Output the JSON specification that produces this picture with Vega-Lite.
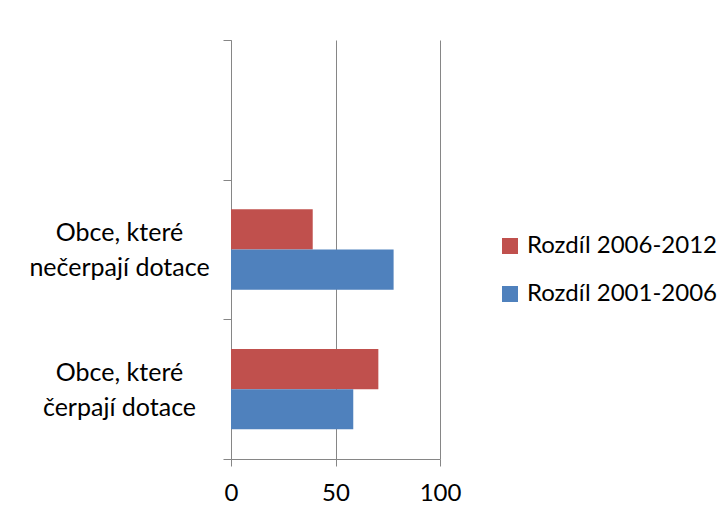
{
  "$schema": "https://vega.github.io/schema/vega-lite/v6.json",
  "autosize": "none",
  "padding": {"left": 231, "top": 40, "right": 288, "bottom": 59},
  "width": 209,
  "height": 419,
  "background": "white",
  "data": {
    "values": [
      {"category": "Obce, které čerpají dotace", "series": "Rozdíl 2006-2012", "value": 70.5},
      {"category": "Obce, které čerpají dotace", "series": "Rozdíl 2001-2006", "value": 58.5},
      {"category": "Obce, které nečerpají dotace", "series": "Rozdíl 2006-2012", "value": 39.1},
      {"category": "Obce, které nečerpají dotace", "series": "Rozdíl 2001-2006", "value": 77.8}
    ]
  },
  "mark": {"type": "bar"},
  "encoding": {
    "y": {
      "field": "category",
      "type": "nominal",
      "scale": {
        "domain": [" ", "Obce, které nečerpají dotace", "Obce, které čerpají dotace"],
        "paddingInner": 0,
        "paddingOuter": 0
      },
      "axis": {
        "title": null,
        "labelExpr": "[slice(datum.label, 0, 11), slice(datum.label, 12)]",
        "tickBand": "extent",
        "tickSize": 8,
        "tickColor": "#868686",
        "domainColor": "#868686",
        "labelAlign": "center",
        "labelBaseline": "middle",
        "labelPadding": 104,
        "labelOffset": -17,
        "labelLineHeight": 35,
        "labelLimit": 300,
        "labelFont": "Lato",
        "labelFontSize": 25,
        "labelColor": "#000000",
        "grid": false
      }
    },
    "yOffset": {
      "field": "series",
      "type": "nominal",
      "sort": ["Rozdíl 2006-2012", "Rozdíl 2001-2006"],
      "scale": {"paddingInner": 0, "paddingOuter": 0.737}
    },
    "x": {
      "field": "value",
      "type": "quantitative",
      "scale": {"domain": [0, 100], "nice": false},
      "axis": {
        "title": null,
        "values": [0, 50, 100],
        "grid": true,
        "gridColor": "#868686",
        "tickColor": "#868686",
        "domainColor": "#868686",
        "tickSize": 7,
        "labelFlush": false,
        "labelPadding": 15,
        "labelFont": "Lato",
        "labelFontSize": 24,
        "labelColor": "#000000"
      }
    },
    "color": {
      "field": "series",
      "type": "nominal",
      "scale": {
        "domain": ["Rozdíl 2006-2012", "Rozdíl 2001-2006"],
        "range": ["#C0504D", "#4F81BD"]
      },
      "legend": {
        "title": null,
        "orient": "none",
        "legendX": 267,
        "legendY": 194,
        "symbolType": "square",
        "symbolSize": 256,
        "symbolStrokeWidth": 0,
        "labelOffset": 5,
        "labelLimit": 400,
        "rowPadding": 24,
        "labelFont": "Lato",
        "labelFontSize": 24,
        "labelColor": "#000000"
      }
    }
  },
  "config": {
    "view": {"stroke": null}
  }
}
